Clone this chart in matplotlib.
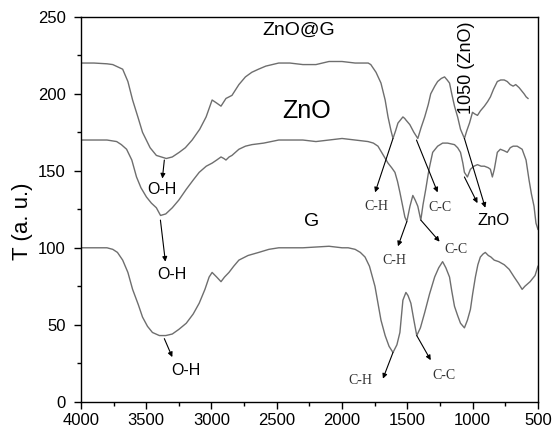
import numpy as np
import matplotlib
matplotlib.use("Agg")
import matplotlib.pyplot as plt
from matplotlib.ticker import MultipleLocator

# FTIR spectra (wavenumber, transmittance)
znog_w = [4000, 3900, 3800, 3756, 3680, 3640, 3604, 3560, 3528, 3470, 3422, 3346, 3300, 3247,
          3200, 3148, 3090, 3041, 2995, 2960, 2927, 2889, 2843, 2790, 2740, 2691, 2640, 2584,
          2485, 2400, 2300, 2200, 2100, 2000, 1900, 1800, 1780, 1740, 1702, 1670, 1648, 1625,
          1610, 1590, 1572, 1534, 1520, 1511, 1481, 1450, 1420, 1395, 1367, 1340, 1321, 1290,
          1268, 1240, 1215, 1195, 1177, 1160, 1139, 1115, 1093, 1063, 1045, 1024, 1001, 985,
          963, 940, 910, 885, 864, 840, 811, 785, 758, 735, 712, 690, 670, 644, 625, 606, 590, 576]
znog_t = [220, 220, 219.5, 219, 216, 208, 196, 184, 175, 165, 160, 158, 159, 162,
          165, 170, 177, 185, 196, 194, 192, 197, 199, 206, 211, 214, 216, 218,
          220, 220, 219, 219, 221, 221, 220, 220, 219, 214, 207, 196, 185, 176,
          171, 176, 181, 185, 184, 183, 180, 175, 171, 178, 185, 193, 200, 205,
          208, 210, 211, 209, 207, 200, 192, 185, 177, 171, 176, 181, 188, 187,
          186, 189, 192, 195, 198, 203, 208, 209, 209, 208, 206, 205, 206, 204, 202, 200, 198, 197]

zno_w = [4000, 3900, 3800, 3726, 3690, 3650, 3610, 3574, 3540, 3498, 3460, 3422, 3390, 3350,
         3300, 3250, 3193, 3140, 3094, 3040, 2995, 2960, 2927, 2905, 2889, 2865, 2843, 2790,
         2740, 2691, 2600, 2485, 2400, 2300, 2200, 2100, 2000, 1900, 1801, 1760, 1725, 1690,
         1648, 1620, 1595, 1575, 1557, 1538, 1519, 1504, 1480, 1458, 1440, 1420, 1397, 1380,
         1359, 1340, 1329, 1306, 1268, 1230, 1192, 1139, 1115, 1093, 1075, 1063, 1040, 1017,
         990, 963, 935, 910, 880, 864, 849, 834, 811, 788, 758, 735, 712, 690, 659, 640,
         621, 591, 568, 550, 530, 515, 500]
zno_t = [170, 170, 170, 169, 167, 164, 157, 146, 139, 133, 129, 126, 121, 122,
         126, 131, 138, 144, 149, 153, 155, 157, 159, 158, 157, 159, 160, 164,
         166, 167, 168, 170, 170, 170, 169, 170, 171, 170, 169, 168, 166, 161,
         155, 152, 149, 143, 136, 128, 120, 117, 127, 134, 131, 127, 118, 128,
         138, 148, 153, 162, 166, 168, 168, 167, 165, 162, 155, 149, 146, 151,
         153, 154, 153, 153, 152, 151, 146, 151, 162, 164, 163, 162, 165, 166, 166, 165,
         164, 157, 144, 135, 127, 116, 112]

g_w = [4000, 3900, 3800, 3756, 3720, 3680, 3640, 3604, 3560, 3528, 3490, 3452, 3399, 3350,
       3300, 3250, 3193, 3140, 3094, 3050, 3018, 2995, 2960, 2927, 2900, 2866, 2830, 2790,
       2720, 2638, 2560, 2485, 2300, 2100, 2000, 1953, 1900, 1860, 1824, 1790, 1748, 1725,
       1702, 1670, 1640, 1610, 1580, 1557, 1545, 1534, 1511, 1495, 1473, 1450, 1428, 1400,
       1367, 1330, 1291, 1260, 1230, 1205, 1177, 1160, 1139, 1115, 1093, 1063, 1040, 1017,
       1000, 979, 960, 941, 920, 903, 880, 860, 835, 800, 758, 720, 682, 650, 621, 600,
       560, 522, 500]
g_t = [100, 100, 100, 99, 97, 92, 84, 73, 63, 55, 49, 45, 43, 43,
       44, 47, 51, 57, 64, 73, 81, 84, 81, 78, 81, 84, 88, 92,
       95, 97, 99, 100, 100, 101, 100, 100, 99, 97, 94, 88, 75, 64,
       53, 43, 36, 32, 37, 45, 56, 66, 71, 69, 64, 53, 43, 48,
       58, 70, 81, 87, 91, 87, 81, 72, 62, 56, 51, 48, 53, 60,
       70, 81, 89, 94, 96, 97, 95, 94, 92, 91, 89, 86, 81, 77, 73, 75,
       78, 82, 88]

# band labels: (text, label position, arrow start on the curve, arrow tip)
sans_bands = [
    ("O-H", (3376, 138), (3361, 157), (3376, 145)),
    ("O-H", (3307, 82.5), (3391, 118), (3353, 91)),
    ("O-H", (3193, 20), (3361, 41), (3300, 29)),
]
serif_bands = [
    ("C-H", (1740, 127), (1610, 171), (1747, 136)),
    ("C-C", (1253, 126), (1430, 170), (1268, 136)),
    ("C-H", (1603, 92), (1504, 117), (1572, 101)),
    ("C-C", (1131, 99), (1397, 118), (1253, 104)),
    ("C-H", (1861, 14), (1610, 32), (1687, 15)),
    ("C-C", (1222, 17), (1428, 43), (1321, 27)),
]
zno_arrows = [((1063, 171), (903, 126)), ((1063, 146), (963, 129))]

SANS = "Liberation Sans"
SERIF = "Liberation Serif"
line_color = "#6e6e6e"

fig = plt.figure(figsize=(5.54, 4.32), dpi=100)
ax = fig.add_axes([0.146, 0.07, 0.825, 0.891])

for w, t in [(znog_w, znog_t), (zno_w, zno_t), (g_w, g_t)]:
    ax.plot(w, t, color=line_color, lw=1.0)

ax.set_xlim(4000, 500)
ax.set_ylim(0, 250)
ax.xaxis.set_major_locator(MultipleLocator(500))
ax.xaxis.set_minor_locator(MultipleLocator(250))
ax.yaxis.set_major_locator(MultipleLocator(50))
ax.yaxis.set_minor_locator(MultipleLocator(25))
ax.tick_params(which="major", direction="out", length=5, width=1, labelsize=12)
ax.tick_params(axis="x", which="major", pad=3)
ax.tick_params(axis="y", which="major", pad=6)
ax.tick_params(which="minor", direction="out", length=3, width=1)
for lab in ax.get_xticklabels() + ax.get_yticklabels():
    lab.set_family(SANS)
for sp in ax.spines.values():
    sp.set_linewidth(1.0)

ax.set_ylabel("T (a. u.)", fontsize=16, family=SANS)
ax.yaxis.set_label_coords(-0.105, 0.47)

ax.text(2333, 241, "ZnO@G", fontsize=14, family=SANS, ha="center", va="center")
ax.text(2272, 189, "ZnO", fontsize=18, family=SANS, ha="center", va="center")
ax.text(2234, 117, "G", fontsize=14, family=SANS, ha="center", va="center")
ax.text(1047, 217, "1050 (ZnO)", fontsize=13, family=SANS, rotation=90,
        ha="center", va="center")
ax.text(842, 117.5, "ZnO", fontsize=12, family=SANS, ha="center", va="center")

arrow_kw = dict(arrowstyle="-|>", color="black", lw=0.8, mutation_scale=7,
                shrinkA=0, shrinkB=0)
for txt, pos, start, tip in sans_bands:
    ax.text(pos[0], pos[1], txt, fontsize=11.5, family=SANS, ha="center", va="center")
    ax.annotate("", xy=tip, xytext=start, arrowprops=arrow_kw)
for txt, pos, start, tip in serif_bands:
    ax.text(pos[0], pos[1], txt, fontsize=10, family=SERIF, ha="center", va="center",
            color="#333333")
    ax.annotate("", xy=tip, xytext=start, arrowprops=arrow_kw)
for start, tip in zno_arrows:
    ax.annotate("", xy=tip, xytext=start, arrowprops=arrow_kw)

fig.savefig("out.png", dpi=100)
